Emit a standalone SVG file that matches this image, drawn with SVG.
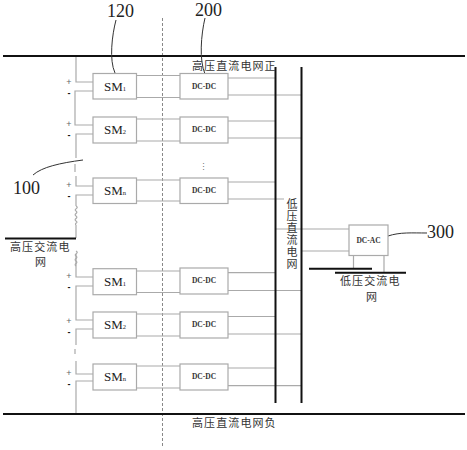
<svg xmlns="http://www.w3.org/2000/svg" width="467" height="450" viewBox="0 0 467 450">
<style>
.bus{stroke:#111;stroke-width:2;fill:none}
.w{stroke:#aaa;stroke-width:1.2;fill:none}
.box{fill:#fff;stroke:#aaa;stroke-width:1.2}
.lead{stroke:#333;stroke-width:1;fill:none}
.cn{font-family:"Noto Sans CJK SC",sans-serif;font-size:11px;letter-spacing:1.1px;fill:#333}
.num{font-family:"Liberation Serif",serif;font-size:18px;fill:#222}
.sm{font-family:"Liberation Serif",serif;font-size:13px;fill:#222}
.sm tspan{font-size:6.500px}
.dc{font-family:"Liberation Serif",serif;font-size:7.500px;font-weight:bold;fill:#333;text-anchor:middle}
.pm{font-family:"Liberation Sans",sans-serif;font-size:9px;fill:#666;text-anchor:middle}
.mn{font-family:"Liberation Sans",sans-serif;font-size:9px;font-weight:bold;fill:#111;text-anchor:middle}
</style>
<rect width="467" height="450" fill="#fff"/>
<g id="connectors">
<path d="M162.500 18V447" stroke="#888" stroke-width="1" stroke-dasharray="3 2" fill="none"/>
<path class="w" d="M76 56V82H93M93 91H75V125H93M93 134H76V158M75 164V172M76 176V186H93M93 195H76V206M76 254V277H93M93 286H76V320H93M93 329H76V345M75 349V354M76 361V374H93M93 381H76V414"/>
<path class="w" d="M76 206c4 2 -3 3 0 5s-3 3 0 5s-3 3 0 5s-2 2 0 4M76 225V238M76 251c4 2 -3 3 0 5s-3 3 0 5s-3 3 0 5"/>
<path class="w" d="M136 75.500H180M136 97.500H180M136 119H180M136 141H180M136 180H180M136 201H180M136 271H180M136 292.500H180M136 314H180M136 336H180M136 366H180M136 388H180"/>
<path class="w" d="M228 78H275M228 95H301M228 121H275M228 138H301M228 182H275M228 199H284M228 272.700H275M228 290.500H301M228 316.500H275M228 334H301M228 368H275M228 385.600H301"/>
<path class="w" d="M276 229H349M301 251H349M353.500 255V268M384 255V272"/>
<path class="bus" d="M3 56H465M3 414H465M5 238.500H76M275.500 67V403M301.500 67V403M309 268.700H372M335 272.700H406"/>
<path class="lead" d="M116 20C112 35 109 60 115 73M205 18C201 35 199 60 205 74M83 160C60 163 42 167 33 175M388 236C400 232 412 233 427 233"/>
</g>
<g id="sm1a"><rect class="box" x="93" y="73.500" width="43.500" height="25.500"/><text class="sm" x="104" y="91">SM<tspan>1</tspan></text></g>
<g id="sm2a"><rect class="box" x="93" y="117" width="43.500" height="26"/><text class="sm" x="104" y="134">SM<tspan>2</tspan></text></g>
<g id="smna"><rect class="box" x="93" y="178" width="43.500" height="25.500"/><text class="sm" x="104" y="195">SM<tspan>n</tspan></text></g>
<g id="sm1b"><rect class="box" x="93" y="268.700" width="43.500" height="26"/><text class="sm" x="104" y="286">SM<tspan>1</tspan></text></g>
<g id="sm2b"><rect class="box" x="93" y="312" width="43.500" height="26"/><text class="sm" x="104" y="329">SM<tspan>2</tspan></text></g>
<g id="smnb"><rect class="box" x="93" y="364" width="43.500" height="26"/><text class="sm" x="104" y="381">SM<tspan>n</tspan></text></g>
<g id="dc1a"><rect class="box" x="180" y="73.500" width="48" height="25.500"/><text class="dc" x="204" y="88.500">DC-DC</text></g>
<g id="dc2a"><rect class="box" x="180" y="117" width="48" height="26"/><text class="dc" x="204" y="132">DC-DC</text></g>
<g id="dcna"><rect class="box" x="180" y="178" width="48" height="25.500"/><text class="dc" x="204" y="193">DC-DC</text></g>
<g id="dc1b"><rect class="box" x="180" y="268" width="48" height="26"/><text class="dc" x="204" y="283">DC-DC</text></g>
<g id="dc2b"><rect class="box" x="180" y="312" width="48" height="26"/><text class="dc" x="204" y="327">DC-DC</text></g>
<g id="dcnb"><rect class="box" x="180" y="364" width="48" height="26"/><text class="dc" x="204" y="379">DC-DC</text></g>
<g id="dcac"><rect class="box" x="349" y="225" width="39" height="30.500"/><text class="dc" x="368.500" y="242.500">DC-AC</text></g>
<g id="signs">
<text class="pm" x="69" y="85">+</text><text class="mn" x="69" y="96">-</text>
<text class="pm" x="69" y="127">+</text><text class="mn" x="69" y="138">-</text>
<text class="pm" x="69" y="188">+</text><text class="mn" x="69" y="199">-</text>
<text class="pm" x="69" y="279">+</text><text class="mn" x="69" y="290">-</text>
<text class="pm" x="69" y="324">+</text><text class="mn" x="69" y="335">-</text>
<text class="pm" x="69" y="376">+</text><text class="mn" x="69" y="387">-</text>
<text x="203" y="170" font-family="Liberation Sans, sans-serif" font-size="9" fill="#777" text-anchor="middle">⋮</text>
</g>
<g id="labels">
<text class="num" x="107" y="17">120</text>
<text class="num" x="195" y="16">200</text>
<text class="num" x="13" y="194">100</text>
<text class="num" x="427" y="238">300</text>
<text class="cn" x="192" y="70">高压直流电网正</text>
<text class="cn" x="192" y="427">高压直流电网负</text>
<text class="cn" x="10" y="251">高压交流电</text>
<text class="cn" x="35" y="266">网</text>
<text class="cn" x="340" y="285">低压交流电</text>
<text class="cn" x="366" y="301">网</text>
<text class="cn" x="292" y="198" writing-mode="tb">低压直流电网</text>
</g>
</svg>
